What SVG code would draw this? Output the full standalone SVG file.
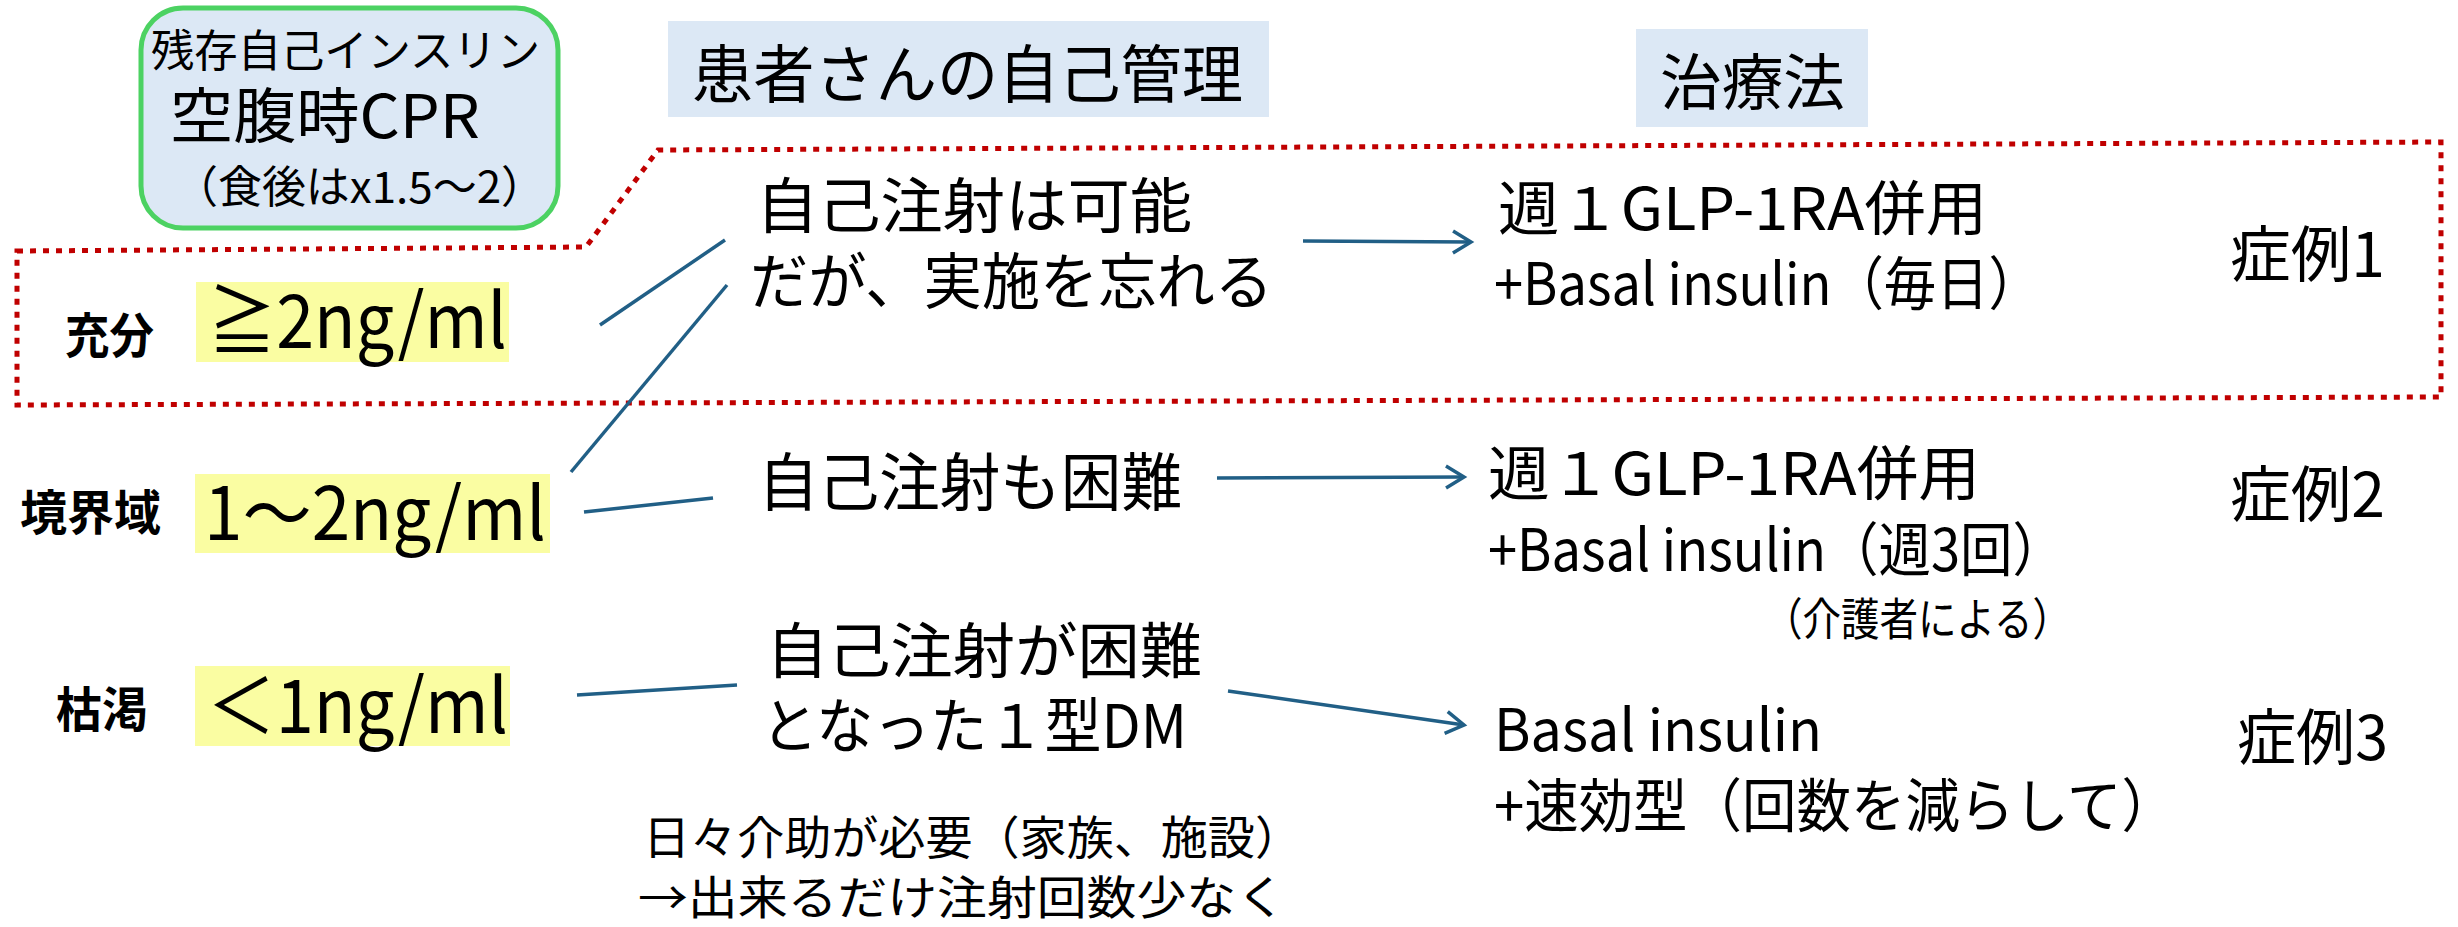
<svg xmlns="http://www.w3.org/2000/svg" width="2458" height="927" viewBox="0 0 2458 927">
<style>
.t{font-family:"Noto Sans CJK JP","Noto Sans",sans-serif;fill:#000;}
.b{font-weight:bold;}
.conn{stroke:#215f86;stroke-width:3.5;fill:none;}
.hdr{fill:#dce8f5;}
.yel{fill:#fafda2;}
</style>
<defs>
<marker id="arr" markerUnits="userSpaceOnUse" markerWidth="26" markerHeight="28" refX="21" refY="13" orient="auto">
<path d="M3,2 L21,13 L3,24" fill="none" stroke="#215f86" stroke-width="3.5"/>
</marker>
</defs>
<rect width="2458" height="927" fill="#fff"/>

<g id="case1-boundary">
<path d="M17,251 L586,247 L658,150 L2441,142 L2441,397 L17,405 Z" fill="none" stroke="#c00000" stroke-width="5" stroke-dasharray="6 7"/>
</g>

<g id="title-box">
<rect x="141" y="8" width="417" height="220" rx="42" ry="42" fill="#dce8f5" stroke="#4cd262" stroke-width="5"/>
<text class="t" x="151" y="67" font-size="44" textLength="389" lengthAdjust="spacingAndGlyphs">残存自己インスリン</text>
<text class="t" x="170" y="138" font-size="60" textLength="310" lengthAdjust="spacingAndGlyphs">空腹時CPR</text>
<text class="t" x="174" y="203" font-size="44" textLength="371" lengthAdjust="spacingAndGlyphs">（食後はx1.5〜2）</text>
</g>

<g id="header-self">
<rect class="hdr" x="668" y="21" width="601" height="96"/>
<text class="t" x="692" y="97" font-size="63" textLength="551" lengthAdjust="spacingAndGlyphs">患者さんの自己管理</text>
</g>

<g id="header-treat">
<rect class="hdr" x="1636" y="29" width="232" height="98"/>
<text class="t" x="1660" y="105" font-size="61" textLength="185" lengthAdjust="spacingAndGlyphs">治療法</text>
</g>

<g id="level-high">
<text class="t b" x="65" y="353" font-size="48" textLength="89" lengthAdjust="spacingAndGlyphs">充分</text>
<rect class="yel" x="196" y="282" width="313" height="80"/>
<text class="t" x="208" y="348" font-size="75" textLength="299" lengthAdjust="spacingAndGlyphs">≧2ng/ml</text>
</g>

<g id="level-mid">
<text class="t b" x="20" y="530" font-size="48" textLength="141" lengthAdjust="spacingAndGlyphs">境界域</text>
<rect class="yel" x="195" y="474" width="355" height="79"/>
<text class="t" x="204" y="540" font-size="73" textLength="342" lengthAdjust="spacingAndGlyphs">1〜2ng/ml</text>
</g>

<g id="level-low">
<text class="t b" x="56" y="727" font-size="48" textLength="92" lengthAdjust="spacingAndGlyphs">枯渇</text>
<rect class="yel" x="195" y="666" width="315" height="80"/>
<text class="t" x="207" y="733" font-size="75" textLength="301" lengthAdjust="spacingAndGlyphs">＜1ng/ml</text>
</g>

<g id="self-1">
<text class="t" x="756" y="228" font-size="60" textLength="436" lengthAdjust="spacingAndGlyphs">自己注射は可能</text>
<text class="t" x="750" y="304" font-size="61" textLength="523" lengthAdjust="spacingAndGlyphs">だが、実施を忘れる</text>
</g>

<g id="self-2">
<text class="t" x="758" y="505" font-size="63" textLength="424" lengthAdjust="spacingAndGlyphs">自己注射も困難</text>
</g>

<g id="self-3">
<text class="t" x="766" y="673" font-size="60" textLength="436" lengthAdjust="spacingAndGlyphs">自己注射が困難</text>
<text class="t" x="761" y="748" font-size="60" textLength="426" lengthAdjust="spacingAndGlyphs">となった１型DM</text>
</g>

<g id="note">
<text class="t" x="643" y="854" font-size="46" textLength="659" lengthAdjust="spacingAndGlyphs">日々介助が必要（家族、施設）</text>
<text class="t" x="638" y="914" font-size="46" textLength="648" lengthAdjust="spacingAndGlyphs">→出来るだけ注射回数少なく</text>
</g>

<g id="treat-1">
<text class="t" x="1498" y="230" font-size="59" textLength="489" lengthAdjust="spacingAndGlyphs">週１GLP-1RA併用</text>
<text class="t" x="1494" y="305" font-size="58" textLength="547" lengthAdjust="spacingAndGlyphs">+Basal insulin（毎日）</text>
</g>

<g id="treat-2">
<text class="t" x="1488" y="495" font-size="59" textLength="492" lengthAdjust="spacingAndGlyphs">週１GLP-1RA併用</text>
<text class="t" x="1488" y="571" font-size="58" textLength="577" lengthAdjust="spacingAndGlyphs">+Basal insulin（週3回）</text>
<text class="t" x="1764" y="636" font-size="45" textLength="307" lengthAdjust="spacingAndGlyphs">（介護者による）</text>
</g>

<g id="treat-3">
<text class="t" x="1494" y="751" font-size="58" textLength="328" lengthAdjust="spacingAndGlyphs">Basal insulin</text>
<text class="t" x="1494" y="827" font-size="58" textLength="682" lengthAdjust="spacingAndGlyphs">+速効型（回数を減らして）</text>
</g>

<g id="case-1"><text class="t" x="2230" y="277" font-size="61" textLength="155" lengthAdjust="spacingAndGlyphs">症例1</text></g>
<g id="case-2"><text class="t" x="2230" y="517" font-size="61" textLength="155" lengthAdjust="spacingAndGlyphs">症例2</text></g>
<g id="case-3"><text class="t" x="2237" y="760" font-size="61" textLength="151" lengthAdjust="spacingAndGlyphs">症例3</text></g>

<g id="connectors">
<line class="conn" x1="600" y1="325" x2="725" y2="240"/>
<line class="conn" x1="571" y1="472" x2="727" y2="285"/>
<line class="conn" x1="584" y1="512" x2="713" y2="498"/>
<line class="conn" x1="577" y1="695" x2="737" y2="685"/>
<line class="conn" x1="1303" y1="241" x2="1471" y2="242" marker-end="url(#arr)"/>
<line class="conn" x1="1217" y1="478" x2="1464" y2="477" marker-end="url(#arr)"/>
<line class="conn" x1="1228" y1="691" x2="1464" y2="725" marker-end="url(#arr)"/>
</g>
</svg>
